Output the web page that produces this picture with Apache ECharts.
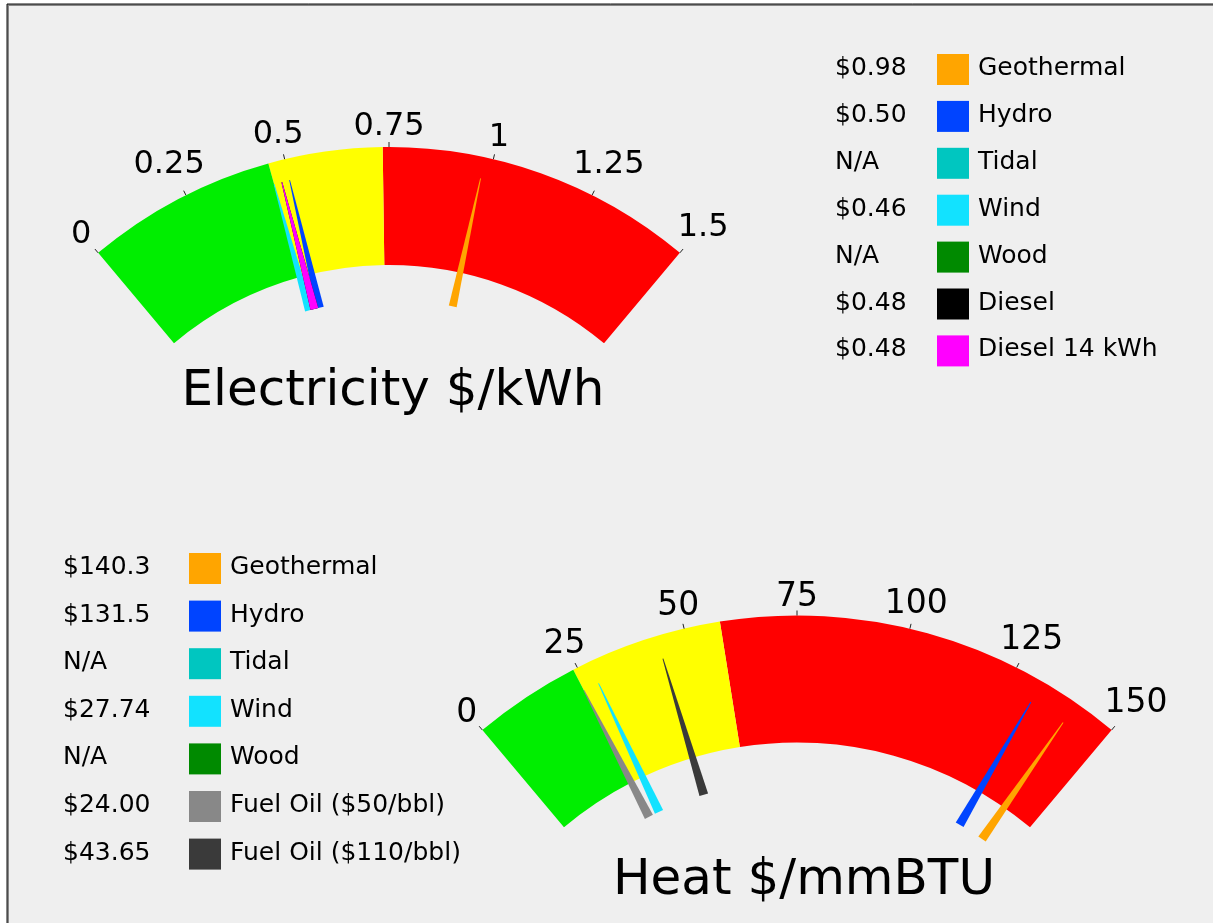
<!DOCTYPE html>
<html>
<head>
<meta charset="utf-8">
<script src="https://cdn.jsdelivr.net/npm/echarts@6/dist/echarts.min.js"></script>
<style>
  html, body { margin: 0; padding: 0; background: #fff; }
  #main { width: 1213px; height: 923px; }
</style>
</head>
<body>
<div id="main"></div>
<script>
// electricity, $/kWh
var elecNames = ['Geothermal', 'Hydro', 'Tidal', 'Wind', 'Wood', 'Diesel', 'Diesel 14 kWh'];
var elecValues = [0.98, 0.50, null, 0.46, null, 0.48, 0.48];
var elecColors = ['#ffa500', '#0044ff', '#00c6c0', '#12e2ff', '#008a00', '#000000', '#ff00ff'];
var elecBands = [0.46, 0.735, 1.5];

// heat, $/mmBTU
var heatNames = ['Geothermal', 'Hydro', 'Tidal', 'Wind', 'Wood', 'Fuel Oil ($50/bbl)', 'Fuel Oil ($110/bbl)'];
var heatValues = [140.3, 131.5, null, 27.74, null, 24.00, 43.65];
var heatColors = ['#ffa500', '#0044ff', '#00c6c0', '#12e2ff', '#008a00', '#888888', '#3a3a3a'];
var heatBands = [24, 58, 150];

var bandColors = ['#00ee00', '#ffff00', '#ff0000'];
var FONT = 'DejaVu Sans';
var START = 130, END = 50, SPLITS = 6;

function needles(names, values, colors) {
  var out = [];
  for (var i = 0; i < names.length; i++) {
    if (values[i] == null) continue;
    out.push({ name: names[i], value: values[i], itemStyle: { color: colors[i] } });
  }
  return out;
}

function fmtTick(v) { return String(+v.toFixed(2)); }

var mctx = document.createElement('canvas').getContext('2d');
function textW(t, size) {
  mctx.font = 'normal normal ' + size + 'px ' + FONT;
  return mctx.measureText(t).width;
}

// gauge labels are auto-aligned by angle, so pad each one to sit just outside the arc
function tickRich(max, R, size, gap, anchorR) {
  var rich = {};
  var lineH = textW('国', size);
  for (var i = 0; i <= SPLITS; i++) {
    var text = fmtTick(max * i / SPLITS);
    var w = textW(text, size);
    var a = (START - (START - END) * i / SPLITS) * Math.PI / 180;
    var ux = Math.cos(a), uy = -Math.sin(a);
    var rr = R + gap + Math.abs(ux) * w / 2 + Math.abs(uy) * size * 0.729 / 2;
    var dx = ux * (rr - anchorR), dy = uy * (rr - anchorR) + 2.5;
    var pl = 0, pr = 0, pt = 0, pb = 0;
    if (ux < -0.4) pl = dx - w / 2;
    else if (ux > 0.4) pr = -dx - w / 2;
    else if (dx > 0) pl = 2 * dx; else pr = -2 * dx;
    if (uy < -0.8) pt = dy - lineH / 2;
    else if (dy > 0) pt = 2 * dy; else pb = -2 * dy;
    rich['l' + i] = {
      fontSize: size, fontFamily: FONT, color: '#000',
      padding: [Math.max(pt, 0), Math.max(pr, 0), Math.max(pb, 0), Math.max(pl, 0)]
    };
  }
  return rich;
}

function gauge(c, r, w, max, bands, data, labelSize, gap, needleW) {
  var stops = bands.map(function (b, i) { return [b / max, bandColors[i]]; });
  var anchorOut = 150;
  return {
    type: 'gauge',
    center: c,
    radius: r,
    startAngle: START,
    endAngle: END,
    min: 0,
    max: max,
    splitNumber: SPLITS,
    axisLine: { lineStyle: { width: w, color: stops } },
    axisTick: { show: false },
    splitLine: { distance: -5 - w, length: 5, lineStyle: { color: '#222', width: 1 } },
    axisLabel: {
      distance: w - anchorOut,
      color: '#000',
      fontSize: labelSize,
      fontFamily: FONT,
      formatter: function (v) {
        var i = Math.round(v / max * SPLITS);
        return '{l' + i + '|' + fmtTick(v) + '}';
      },
      rich: tickRich(max, r, labelSize, gap, r + anchorOut)
    },
    pointer: {
      icon: 'path://M0.9,0 L1.1,0 L2,20 L0,20 Z',
      width: needleW,
      length: Math.round(r * 0.29),
      offsetCenter: [0, -Math.round(r * 0.662)]
    },
    anchor: { show: false },
    title: { show: false },
    detail: { show: false },
    data: data
  };
}

// legend rows built from the arrays
function legendRows(names, values, colors, fmt, xVal, xBox, xName, y0, step) {
  var els = [];
  var font = '25px "' + FONT + '"';
  names.forEach(function (n, i) {
    var y = y0 + i * step;
    els.push({ type: 'text', x: xVal, y: y - 1,
      style: { text: values[i] == null ? 'N/A' : '$' + fmt(values[i]), fill: '#000', font: font, verticalAlign: 'middle' } });
    els.push({ type: 'rect', shape: { x: xBox, y: y - 15.5, width: 32, height: 31 },
      style: { fill: colors[i] } });
    els.push({ type: 'text', x: xName, y: y - 1,
      style: { text: n, fill: '#000', font: font, verticalAlign: 'middle' } });
  });
  return els;
}

var chart = echarts.init(document.getElementById('main'));

var graphics = [
  { type: 'rect', z: -10, shape: { x: 8, y: 5, width: 1240, height: 960 },
    style: { fill: '#efefef', stroke: '#888', lineWidth: 2 } },
  { type: 'rect', z: -9, shape: { x: 7, y: 4, width: 1240, height: 960 },
    style: { fill: null, stroke: '#111', lineWidth: 1 } },
  { type: 'text', x: 393, y: 392,
    style: { text: 'Electricity $/kWh', fill: '#000', font: '50px "' + FONT + '"', align: 'center', verticalAlign: 'middle' } },
  { type: 'text', x: 804, y: 881,
    style: { text: 'Heat $/mmBTU', fill: '#000', font: '50px "' + FONT + '"', align: 'center', verticalAlign: 'middle' } }
];
graphics = graphics
  .concat(legendRows(elecNames, elecValues, elecColors, function (v) { return v.toFixed(2); }, 835, 937, 978, 69.5, 46.9))
  .concat(legendRows(heatNames, heatValues, heatColors, function (v) { return v.toPrecision(4); }, 63, 189, 230, 568.5, 47.6));

chart.setOption({
  backgroundColor: '#fff',
  animation: false,
  graphic: graphics,
  series: [
    gauge([389, 599.5], 452.5, 118, 1.5, elecBands, needles(elecNames, elecValues, elecColors), 32, 11, 8),
    gauge([797, 1105], 489.5, 127, 150, heatBands, needles(heatNames, heatValues, heatColors), 33, 8.5, 9)
  ]
});
window.onresize = chart.resize;
</script>
</body>
</html>
